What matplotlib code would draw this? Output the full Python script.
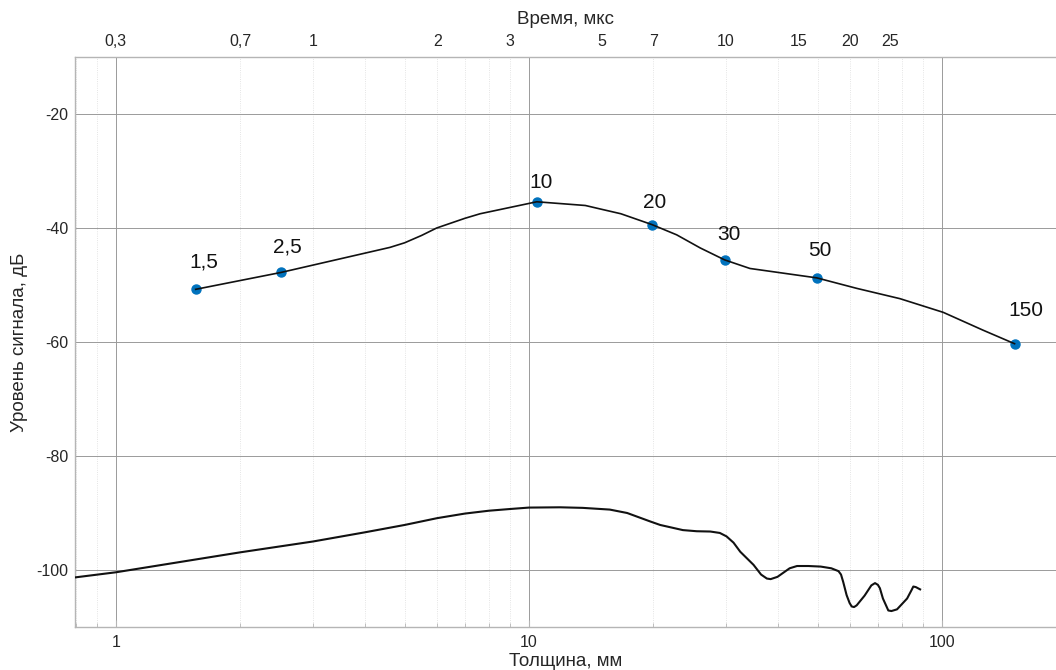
import matplotlib
matplotlib.use("Agg")
import matplotlib.pyplot as plt
import numpy as np
from matplotlib.ticker import LogLocator, NullFormatter, FixedLocator, FixedFormatter

plt.rcParams['font.family'] = ['Liberation Sans', 'DejaVu Sans']

# ---- data ----
# measured points (thickness, mm) and their labels
pt_x = [1.56, 2.51, 10.45, 19.86, 29.8, 49.8, 150]
pt_y = [-50.76, -47.8, -35.4, -39.4, -45.6, -48.75, -60.3]
pt_labels = ['1,5', '2,5', '10', '20', '30', '50', '150']

# upper black curve through the points
up_x = [1.56, 2.51, 4.61, 5.0, 5.5, 5.98, 7.0, 7.62, 10.45, 13.7, 14.86, 16.7, 19.86,
        22.8, 26.0, 29.8, 34.3, 49.8, 62.3, 79.2, 100.8, 125.6, 150]
up_y = [-50.76, -47.8, -43.4, -42.6, -41.3, -40.0, -38.3, -37.5, -35.4, -36.05, -36.65, -37.5, -39.4,
        -41.2, -43.5, -45.6, -47.1, -48.75, -50.6, -52.4, -54.8, -57.9, -60.3]

# lower curve
low_x = [0.796, 1.0, 2.0, 3.0, 4.0, 5.0, 6.0, 7.0, 8.0, 9.0, 10.0, 11.9, 13.5, 15.7, 17.3,
         19.7, 20.8, 23.6, 25.5, 27.5, 29.0, 30.1, 31.3, 32.5, 35.0, 36.5, 37.7, 38.5, 40.0,
         42.8, 44.6, 47.5, 50.9, 54.0, 56.2, 57.0, 57.7, 58.8, 59.8, 60.5, 61.3, 62.2, 65.0,
         67.5, 68.9, 70.0, 70.8, 72.0, 74.2, 75.5, 77.9, 82.4, 84.5, 85.3, 86.5, 88.6]
low_y = [-101.3, -100.4, -96.9, -95.0, -93.4, -92.1, -90.9, -90.1, -89.6, -89.3, -89.05,
         -89.0, -89.1, -89.4, -90.0, -91.5, -92.1, -93.0, -93.2, -93.25, -93.5, -94.1, -95.2,
         -96.8, -99.1, -100.8, -101.5, -101.6, -101.2, -99.7, -99.3, -99.3, -99.4, -99.7,
         -100.2, -100.8, -102.1, -104.4, -105.8, -106.4, -106.5, -106.2, -104.5, -102.7,
         -102.3, -102.6, -103.2, -105.0, -107.1, -107.2, -106.9, -105.0, -103.5, -102.9,
         -103.0, -103.4]

# top axis (time, us) tick positions in thickness units and labels
top_pos = [1, 2, 3, 6, 9, 15, 20, 30, 45, 60, 75]
top_labels = ['0,3', '0,7', '1', '2', '3', '5', '7', '10', '15', '20', '25']

y_ticks = [-100, -80, -60, -40, -20]

# ---- figure ----
W, H = 1056, 670
fig = plt.figure(figsize=(W / 100, H / 100), dpi=100)
ax = fig.add_axes([75 / W, 1 - 627 / H, (W - 75) / W, (627 - 57) / H])
ax.set_xscale('log')
ax.set_xlim(0.796, 189)
ax.set_ylim(-110, -10)

ax.xaxis.set_major_locator(FixedLocator([1, 10, 100]))
ax.xaxis.set_major_formatter(FixedFormatter(['1', '10', '100']))
ax.xaxis.set_minor_locator(LogLocator(base=10, subs=np.arange(2, 10)))
ax.xaxis.set_minor_formatter(NullFormatter())
ax.set_yticks(y_ticks)
ax.set_yticklabels([str(v) for v in y_ticks])

ax.grid(True, which='major', color='#9a9a9a', lw=0.7)
ax.grid(True, which='minor', axis='x', color='#dcdcdc', lw=0.6, ls=':')
ax.set_axisbelow(True)

for s in ['left', 'top', 'bottom']:
    ax.spines[s].set_color('#b5b5b5')
    ax.spines[s].set_linewidth(1.0)
ax.spines['right'].set_visible(False)

ax.tick_params(axis='both', which='both', direction='in', colors='#b5b5b5',
               labelcolor='#262626', labelsize=11.5, top=True)
ax.tick_params(axis='x', which='major', length=5, pad=6)
ax.tick_params(axis='x', which='minor', length=3)
ax.tick_params(axis='y', which='major', length=0, pad=5)

ax.set_xlabel('Толщина, мм', fontsize=13.5, color='#262626', labelpad=2)
ax.set_ylabel('Уровень сигнала, дБ', fontsize=13.5, color='#262626', labelpad=6)

# top axis
ax2 = ax.twiny()
ax2.set_xscale('log')
ax2.set_xlim(ax.get_xlim())
ax2.xaxis.set_major_locator(FixedLocator(top_pos))
ax2.xaxis.set_major_formatter(FixedFormatter(top_labels))
ax2.xaxis.set_minor_locator(FixedLocator([]))
ax2.tick_params(axis='x', which='both', length=0, labelsize=11.5, labelcolor='#262626', pad=6)
for s in ax2.spines.values():
    s.set_visible(False)
ax2.set_xlabel('Время, мкс', fontsize=13.5, color='#262626', labelpad=7)

# curves
ax.plot(low_x, low_y, color='#111111', lw=1.5, zorder=3, solid_joinstyle='round')
ax.plot(pt_x, pt_y, 'o', color='#0072BD', ms=6.5, zorder=3)
ax.plot(up_x, up_y, color='#111111', lw=1.2, zorder=4, solid_joinstyle='round')

# point labels
label_offsets = [(8, 27), (6, 25), (4, 19), (3, 22), (4, 25), (3, 27), (11, 33)]
for x, y, t, (dx, dy) in zip(pt_x, pt_y, pt_labels, label_offsets):
    ax.annotate(t, (x, y), xytext=(dx, dy), textcoords='offset pixels',
                ha='center', va='center', fontsize=15, color='#111111', zorder=5)

fig.savefig('out.png', dpi=100)
